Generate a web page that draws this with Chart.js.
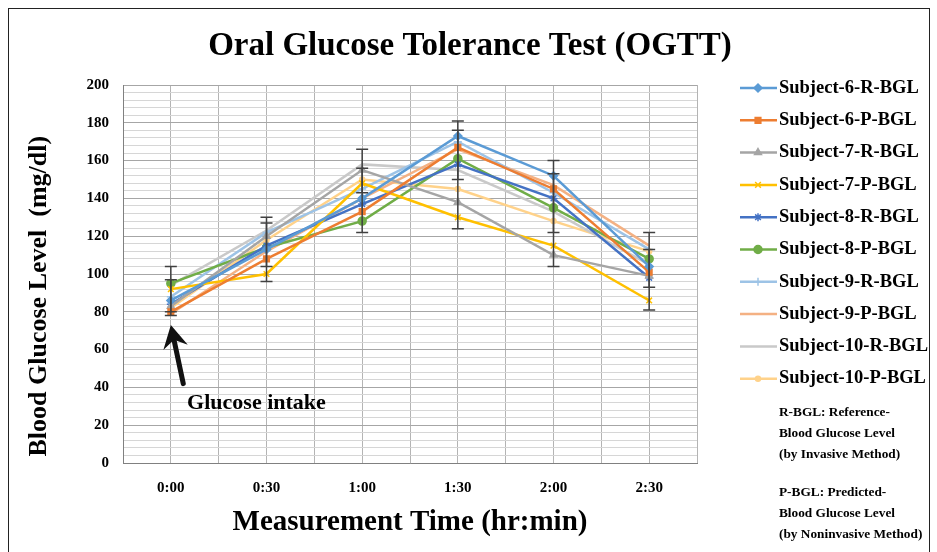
<!DOCTYPE html>
<html>
<head>
<meta charset="utf-8">
<script src="https://cdn.jsdelivr.net/npm/chart.js@4/dist/chart.umd.min.js"></script>
<style>
  html, body { margin: 0; padding: 0; background: #fff; }
  #wrap { width: 937px; height: 552px; }
</style>
</head>
<body>
<div id="wrap"><canvas id="ogtt" width="937" height="552"></canvas></div>
<script>
'use strict';

// time points (hr:min)
const times = ['0:00', '0:30', '1:00', '1:30', '2:00', '2:30'];

// blood glucose values (mg/dl)
const s6R = [86, 113, 140, 173, 152, 104];
const s6P = [80, 108, 133, 167, 145, 101];
const s7R = [83, 120, 155, 138, 110, 99];
const s7P = [92, 100, 148, 130, 115, 86];
const s8R = [84, 115, 137, 158, 140, 98];
const s8P = [95, 114, 128, 161, 135, 108];
const s9R = [88, 122, 145, 170, 143, 113];
const s9P = [79, 112, 140, 166, 147, 115];
const s10R = [94, 123, 158, 155, 133, 105];
const s10P = [82, 118, 150, 145, 128, 112];

// error bars (two per time point)
const errHighA = [104, 130, 166, 181, 160, 122];
const errLowA = [80, 104, 143, 150, 122, 93];
const errHighB = [97, 127, 156, 176, 153, 113];
const errLowB = [78, 96, 122, 124, 104, 81];

// y ticks: labels every 20, minor lines every 4
const yMax = 200;
const yMajor = 20;
const yMinor = 4;

const chartTitle = 'Oral Glucose Tolerance Test (OGTT)';
const notes = [
    ['R-BGL: Reference-', 'Blood Glucose Level', '(by Invasive Method)'],
    ['P-BGL: Predicted-', 'Blood Glucose Level', '(by Noninvasive Method)']
];

const SERIF = '"Liberation Serif", "Times New Roman", serif';

function pts(arr) {
    return arr.map((v, i) => ({ x: i + 0.5, y: v }));
}

function ds(label, values, color, style, radius) {
    return {
        label: label,
        data: pts(values),
        borderColor: color,
        backgroundColor: color,
        borderWidth: 2.5,
        pointStyle: style,
        pointRadius: radius,
        pointBorderWidth: 1.5,
        tension: 0
    };
}

const datasets = [
    ds('Subject-6-R-BGL', s6R, '#5B9BD5', 'rectRot', 4),
    ds('Subject-6-P-BGL', s6P, '#ED7D31', 'rect', 4),
    ds('Subject-7-R-BGL', s7R, '#A5A5A5', 'triangle', 4),
    ds('Subject-7-P-BGL', s7P, '#FFC000', 'crossRot', 4),
    ds('Subject-8-R-BGL', s8R, '#4472C4', 'star', 4),
    ds('Subject-8-P-BGL', s8P, '#70AD47', 'circle', 4),
    ds('Subject-9-R-BGL', s9R, '#9DC3E6', 'cross', 4),
    ds('Subject-9-P-BGL', s9P, '#F4B183', 'circle', 0),
    ds('Subject-10-R-BGL', s10R, '#C9C9C9', 'circle', 0),
    ds('Subject-10-P-BGL', s10P, '#FFD28A', 'circle', 2.5)
];

// error bars, arrow, legend, notes and title
const extras = {
    id: 'extras',
    afterDatasetsDraw(chart) {
        const ctx = chart.ctx;
        const xs = chart.scales.x, ys = chart.scales.y;
        ctx.save();
        ctx.strokeStyle = '#404040';
        ctx.lineWidth = 1.5;
        const bar = (i, hi, lo) => {
            const x = xs.getPixelForValue(i + 0.5);
            const y1 = ys.getPixelForValue(hi), y2 = ys.getPixelForValue(lo);
            ctx.beginPath();
            ctx.moveTo(x, y1); ctx.lineTo(x, y2);
            ctx.moveTo(x - 6, y1); ctx.lineTo(x + 6, y1);
            ctx.moveTo(x - 6, y2); ctx.lineTo(x + 6, y2);
            ctx.stroke();
        };
        times.forEach((t, i) => {
            bar(i, errHighA[i], errLowA[i]);
            bar(i, errHighB[i], errLowB[i]);
        });

        // arrow pointing at the glucose intake
        const tipX = xs.getPixelForValue(0.5), tipY = ys.getPixelForValue(73);
        const tailX = xs.getPixelForValue(0.63), tailY = ys.getPixelForValue(42);
        const ang = Math.atan2(tipY - tailY, tipX - tailX);
        ctx.strokeStyle = '#111';
        ctx.lineWidth = 5;
        ctx.lineCap = 'round';
        ctx.beginPath();
        ctx.moveTo(tailX, tailY);
        ctx.lineTo(tipX - 8 * Math.cos(ang), tipY - 8 * Math.sin(ang));
        ctx.stroke();
        ctx.fillStyle = '#111';
        ctx.beginPath();
        ctx.moveTo(tipX, tipY);
        ctx.lineTo(tipX - 26 * Math.cos(ang - 0.5), tipY - 26 * Math.sin(ang - 0.5));
        ctx.lineTo(tipX - 15 * Math.cos(ang), tipY - 15 * Math.sin(ang));
        ctx.lineTo(tipX - 26 * Math.cos(ang + 0.5), tipY - 26 * Math.sin(ang + 0.5));
        ctx.closePath();
        ctx.fill();

        ctx.font = 'bold 22px ' + SERIF;
        ctx.textAlign = 'left';
        ctx.textBaseline = 'middle';
        ctx.fillStyle = '#000';
        ctx.fillText('Glucose intake', xs.getPixelForValue(0.67), ys.getPixelForValue(31.5));
        ctx.restore();
    },
    afterDraw(chart) {
        const ctx = chart.ctx;
        const area = chart.chartArea;
        ctx.save();
        // title
        ctx.fillStyle = '#000';
        ctx.font = 'bold 33px ' + SERIF;
        ctx.textAlign = 'center';
        ctx.textBaseline = 'middle';
        ctx.fillText(chartTitle, 470, 46);

        // legend
        const lx = area.right + 43;
        chart.data.datasets.forEach((d, i) => {
            const y = 88 + i * 32.3;
            ctx.strokeStyle = d.borderColor;
            ctx.lineWidth = 2.5;
            ctx.beginPath();
            ctx.moveTo(lx, y);
            ctx.lineTo(lx + 37, y);
            ctx.stroke();
            if (d.pointRadius > 0 && Chart.helpers && Chart.helpers.drawPoint) {
                ctx.fillStyle = d.backgroundColor;
                ctx.lineWidth = 1.5;
                Chart.helpers.drawPoint(ctx, {
                    pointStyle: d.pointStyle, radius: d.pointRadius, rotation: 0, borderWidth: 1.5
                }, lx + 18, y);
            }
            ctx.fillStyle = '#000';
            ctx.font = 'bold 18.5px ' + SERIF;
            ctx.textAlign = 'left';
            ctx.textBaseline = 'middle';
            ctx.fillText(d.label, lx + 39, y);
        });
        // notes
        ctx.font = 'bold 13.3px ' + SERIF;
        notes.forEach((block, b) => {
            block.forEach((line, j) => {
                ctx.fillText(line, lx + 39, 413 + b * 80 + j * 21);
            });
        });
        // outer frame
        ctx.strokeStyle = '#222';
        ctx.lineWidth = 1;
        ctx.strokeRect(8.5, 8.5, 921, 560);
        ctx.restore();
    }
};

const ctx = document.getElementById('ogtt');
new Chart(ctx, {
    type: 'line',
    data: { datasets: datasets },
    plugins: [extras],
    options: {
        responsive: false,
        animation: false,
        layout: { padding: { left: 0, right: 240, top: 85, bottom: 0 } },
        plugins: {
            legend: { display: false },
            tooltip: { enabled: false },
            title: { display: false }
        },
        scales: {
            x: {
                type: 'linear',
                min: 0,
                max: times.length,
                afterFit: (s) => { s.height = 89; },
                border: { color: '#808080', width: 1 },
                grid: { color: '#b4b4b4', drawTicks: false },
                ticks: {
                    stepSize: 0.5,
                    autoSkip: false,
                    maxRotation: 0,
                    padding: 16,
                    color: '#000',
                    font: { family: SERIF, size: 15, weight: 'bold' },
                    callback: (v) => {
                        const i = v - 0.5;
                        return Number.isInteger(i) && i >= 0 && i < times.length ? times[i] : '';
                    }
                },
                title: {
                    display: true,
                    text: 'Measurement Time (hr:min)',
                    color: '#000',
                    font: { family: SERIF, size: 29, weight: 'bold' },
                    padding: { top: 0, bottom: 12 }
                }
            },
            y: {
                min: 0,
                max: yMax,
                afterFit: (s) => { s.width = 123; },
                border: { color: '#808080', width: 1 },
                grid: {
                    drawTicks: false,
                    color: (c) => (c.tick && c.tick.value % yMajor === 0) ? '#a6a6a6' : '#d6d6d6'
                },
                ticks: {
                    stepSize: yMinor,
                    autoSkip: false,
                    padding: 14,
                    color: '#000',
                    font: { family: SERIF, size: 15, weight: 'bold' },
                    callback: (v) => (v % yMajor === 0 ? v : '')
                },
                title: {
                    display: true,
                    align: 'start',
                    text: ' Blood Glucose Level  (mg/dl)',
                    color: '#000',
                    font: { family: SERIF, size: 26, weight: 'bold' },
                    padding: { top: 24, bottom: 0 }
                }
            }
        }
    }
});
</script>
</body>
</html>
